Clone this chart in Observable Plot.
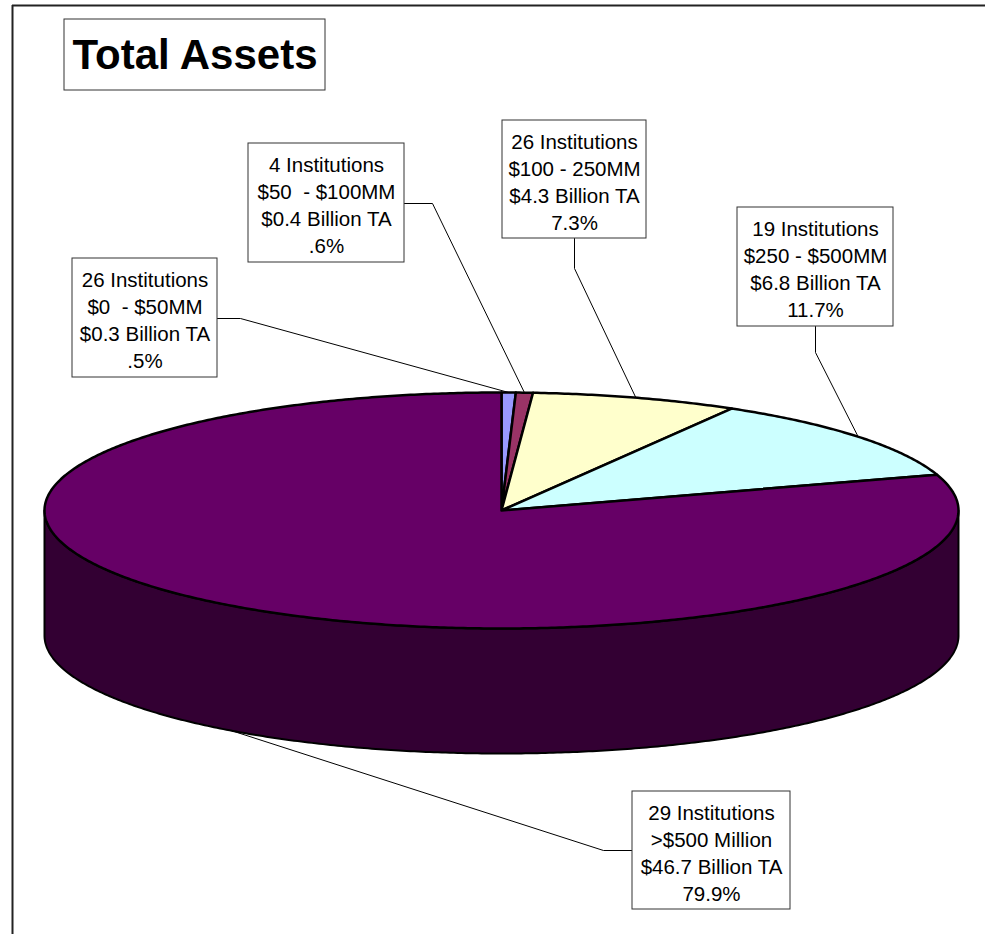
<!DOCTYPE html>
<html><head><meta charset="utf-8">
<script src="https://cdn.jsdelivr.net/npm/d3@7"></script>
<script src="https://cdn.jsdelivr.net/npm/@observablehq/plot@0.6"></script>
<style>body{margin:0;background:#fff}</style>
</head><body><div id="chart"></div>
<script>
// ---- data ----
const institutions = [26, 4, 26, 19, 29];
const rangeLabels = ["$0  - $50MM", "$50  - $100MM", "$100 - 250MM", "$250 - $500MM", ">$500 Million"];
const assetsBillion = ["0.3", "0.4", "4.3", "6.8", "46.7"];
const percents = [0.5, 0.6, 7.3, 11.7, 79.9];
const percentLabels = [".5%", ".6%", "7.3%", "11.7%", "79.9%"];
const colors = ["#9999FF", "#993366", "#FFFFCC", "#CCFFFF", "#660066"];
const sideColor = "#330033";
const title = "Total Assets";

// ---- layout ----
const W = 985, H = 934;
const cx = 501, cy = 510, rx = 457, ry = 118, depth = 125;
const boxes = [
  {x1: 72, y1: 258, x2: 217, y2: 377, knee: [[217, 318], [240, 318]], bottom: false},
  {x1: 248, y1: 143, x2: 404, y2: 262, knee: [[404, 203], [432, 203]], bottom: false},
  {x1: 502, y1: 120, x2: 646, y2: 238, knee: [[574, 238], [574, 268]], bottom: false},
  {x1: 737, y1: 207, x2: 893, y2: 326, knee: [[815, 326], [815, 352]], bottom: false},
  {x1: 632, y1: 791, x2: 790, y2: 909, knee: [[632, 850], [603, 850]], bottom: true}
];
const titleBox = {x1: 64, y1: 19, x2: 325, y2: 90};

const total = d3.sum(percents);
const ang = p => p / total * 2 * Math.PI;
const pt = (t, dz = 0) => [cx + rx * Math.sin(t), cy - ry * Math.cos(t) + dz];

// slices on top face
const slicePts = [];
let acc = 0;
const mids = [];
percents.forEach((p, i) => {
  const a0 = ang(acc), a1 = ang(acc + p);
  acc += p;
  mids.push((a0 + a1) / 2);
  const n = Math.max(2, Math.ceil((a1 - a0) / (Math.PI / 360)));
  slicePts.push({id: i, x: cx, y: cy, c: colors[i]});
  for (let k = 0; k <= n; k++) {
    const [x, y] = pt(a0 + (a1 - a0) * k / n);
    slicePts.push({id: i, x, y, c: colors[i]});
  }
});

// front side wall (belongs to largest slice which spans the front)
const sidePts = [];
for (let k = 0; k <= 360; k++) {
  const [x, y] = pt(Math.PI / 2 + Math.PI * k / 360);
  sidePts.push({x, y});
}
for (let k = 360; k >= 0; k--) {
  const [x, y] = pt(Math.PI / 2 + Math.PI * k / 360, depth);
  sidePts.push({x, y});
}

// leaders
const leaderPts = [];
boxes.forEach((b, i) => {
  b.knee.forEach(([x, y]) => leaderPts.push({id: i, x, y}));
  const [x, y] = pt(mids[i], b.bottom ? depth : 0);
  leaderPts.push({id: i, x, y});
});

const labels = boxes.map((b, i) => ({
  ...b,
  cxm: (b.x1 + b.x2) / 2, cym: (b.y1 + b.y2) / 2 + 1,
  text: `${institutions[i]} Institutions\n${rangeLabels[i]}\n$${assetsBillion[i]} Billion TA\n${percentLabels[i]}`
}));

const font = "'Liberation Sans', Arial, sans-serif";

const chart = Plot.plot({
  width: W, height: H, margin: 0,
  x: {domain: [0, W], range: [0, W], axis: null},
  y: {domain: [0, H], range: [0, H], axis: null},
  color: {type: "identity"},
  style: {background: "#fff", fontFamily: font},
  marks: [
    Plot.ruleY([5], {x1: 12, x2: W, stroke: "#222", strokeWidth: 2}),
    Plot.ruleX([12], {y1: 5, y2: H, stroke: "#222", strokeWidth: 2}),
    Plot.line(sidePts, {x: "x", y: "y", curve: "linear-closed", fill: sideColor, stroke: "#000", strokeWidth: 2}),
    Plot.line(slicePts, {x: "x", y: "y", z: "id", fill: "c", curve: "linear-closed", stroke: "#000", strokeWidth: 2.5, strokeLinejoin: "round"}),
    Plot.line(leaderPts, {x: "x", y: "y", z: "id", stroke: "#000", strokeWidth: 1}),
    Plot.rect(labels, {x1: "x1", x2: "x2", y1: "y1", y2: "y2", fill: "#fff", stroke: "#333", strokeWidth: 1}),
    Plot.text(labels, {x: "cxm", y: "cym", text: "text", fontSize: 20.5, lineHeight: 1.32, fill: "#000", fontFamily: font}),
    Plot.rect([titleBox], {x1: "x1", x2: "x2", y1: "y1", y2: "y2", fill: "#fff", stroke: "#333", strokeWidth: 1}),
    Plot.text([title], {x: (titleBox.x1 + titleBox.x2) / 2, y: (titleBox.y1 + titleBox.y2) / 2 + 1, text: d => d, fontSize: 42, fontWeight: "bold", fill: "#000", fontFamily: font})
  ]
});
document.getElementById("chart").appendChild(chart);
</script>
</body></html>
